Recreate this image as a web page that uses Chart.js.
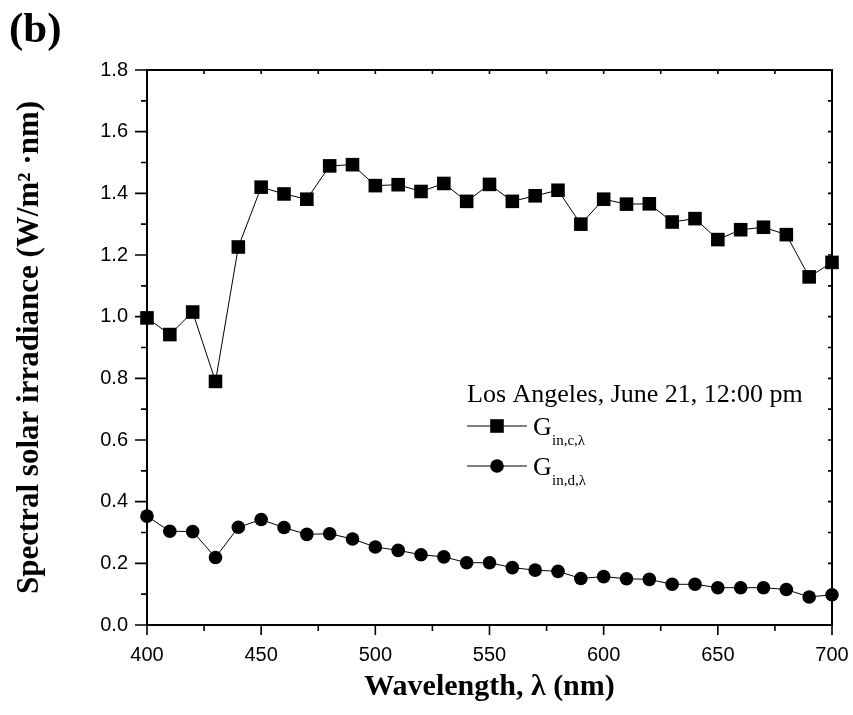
<!DOCTYPE html>
<html>
<head>
<meta charset="utf-8">
<script src="https://cdn.jsdelivr.net/npm/chart.js@4/dist/chart.umd.min.js"></script>
<style>
  html, body { margin: 0; padding: 0; background: #fff; }
  #wrap { width: 853px; height: 715px; }
</style>
</head>
<body>
<div id="wrap"><canvas id="c" width="853" height="715"></canvas></div>
<script>
// ---- data ----
const wavelengths = [400, 410, 420, 430, 440, 450, 460, 470, 480, 490,
                     500, 510, 520, 530, 540, 550, 560, 570, 580, 590,
                     600, 610, 620, 630, 640, 650, 660, 670, 680, 690, 700];
const directIrr  = [0.996, 0.942, 1.015, 0.790, 1.226, 1.420, 1.398, 1.381, 1.489, 1.493,
                    1.425, 1.428, 1.406, 1.432, 1.374, 1.429, 1.374, 1.392, 1.410, 1.300,
                    1.381, 1.365, 1.366, 1.307, 1.318, 1.250, 1.282, 1.290, 1.266, 1.129, 1.176];
const diffuseIrr = [0.353, 0.304, 0.303, 0.219, 0.317, 0.342, 0.316, 0.294, 0.296, 0.279,
                    0.253, 0.242, 0.228, 0.221, 0.202, 0.202, 0.186, 0.178, 0.174, 0.151,
                    0.157, 0.150, 0.148, 0.132, 0.132, 0.121, 0.121, 0.121, 0.115, 0.091, 0.098];
const xMajorTicks = [400, 450, 500, 550, 600, 650, 700];
const xMinorTicks = [425, 475, 525, 575, 625, 675];
const yMajorTicks = [0.0, 0.2, 0.4, 0.6, 0.8, 1.0, 1.2, 1.4, 1.6, 1.8];
const yMinorTicks = [0.1, 0.3, 0.5, 0.7, 0.9, 1.1, 1.3, 1.5, 1.7];
const panelLabel = '(b)';
const legendTitle = 'Los Angeles, June 21, 12:00 pm';
const seriesNames = [{main: 'G', sub: 'in,c,λ'}, {main: 'G', sub: 'in,d,λ'}];
const xTitle = 'Wavelength, λ (nm)';
const yTitle = 'Spectral solar irradiance (W/m² ·nm)';

const toXY = (vals) => wavelengths.map((w, i) => ({x: w, y: vals[i]}));

const SERIF = '"Liberation Serif", "Times New Roman", serif';
const SANS = '"Liberation Sans", Arial, sans-serif';

function drawMarker(ctx, style, x, y) {
  ctx.save();
  ctx.fillStyle = '#000';
  ctx.beginPath();
  if (style === 'rect') {
    const s = 6.8;
    ctx.rect(x - s, y - s, 2 * s, 2 * s);
  } else {
    ctx.arc(x, y, 6.8, 0, Math.PI * 2);
  }
  ctx.fill();
  ctx.restore();
}

const framePlugin = {
  id: 'frame',
  afterDraw(chart) {
    const {ctx, chartArea: a, scales} = chart;
    const xs = scales.x, ys = scales.y;
    ctx.save();
    ctx.strokeStyle = '#000';
    ctx.lineWidth = 2;
    ctx.strokeRect(a.left, a.top, a.right - a.left, a.bottom - a.top);
    ctx.lineWidth = 1.6;
    ctx.beginPath();
    // bottom ticks (outward)
    xMajorTicks.forEach(v => { const p = xs.getPixelForValue(v); ctx.moveTo(p, a.bottom); ctx.lineTo(p, a.bottom + 10); });
    xMinorTicks.forEach(v => { const p = xs.getPixelForValue(v); ctx.moveTo(p, a.bottom); ctx.lineTo(p, a.bottom + 6); });
    // top ticks (inward)
    xMajorTicks.concat(xMinorTicks).forEach(v => { const p = xs.getPixelForValue(v); ctx.moveTo(p, a.top); ctx.lineTo(p, a.top + 4); });
    // left ticks (outward)
    yMajorTicks.forEach(v => { const p = ys.getPixelForValue(v); ctx.moveTo(a.left, p); ctx.lineTo(a.left - 12, p); });
    yMinorTicks.forEach(v => { const p = ys.getPixelForValue(v); ctx.moveTo(a.left, p); ctx.lineTo(a.left - 6, p); });
    // right ticks (inward)
    yMajorTicks.concat(yMinorTicks).forEach(v => { const p = ys.getPixelForValue(v); ctx.moveTo(a.right, p); ctx.lineTo(a.right - 4, p); });
    ctx.stroke();

    // panel label
    ctx.fillStyle = '#000';
    ctx.font = 'bold 43px ' + SERIF;
    ctx.textAlign = 'left';
    ctx.textBaseline = 'alphabetic';
    ctx.fillText(panelLabel, 9, 42);

    // legend
    const lx = 467;
    ctx.font = '26px ' + SERIF;
    ctx.fillText(legendTitle, lx, 402);
    const rows = [{y: 426, style: 'rect'}, {y: 466, style: 'circle'}];
    rows.forEach((r, i) => {
      ctx.lineWidth = 1;
      ctx.beginPath();
      ctx.moveTo(lx, r.y); ctx.lineTo(lx + 60, r.y);
      ctx.stroke();
      drawMarker(ctx, r.style, lx + 30, r.y);
      ctx.font = '26px ' + SERIF;
      ctx.fillText(seriesNames[i].main, lx + 66, r.y + 9);
      ctx.font = '15px ' + SERIF;
      ctx.fillText(seriesNames[i].sub, lx + 85, r.y + 19);
    });
    ctx.restore();
  }
};

new Chart(document.getElementById('c'), {
  type: 'line',
  data: {
    datasets: [
      {
        label: 'G in,c,λ',
        data: toXY(directIrr),
        borderColor: '#000', backgroundColor: '#000', borderWidth: 1,
        pointStyle: 'rect', pointRadius: 9.6, pointHoverRadius: 9.6,
        pointBorderWidth: 0, tension: 0, clip: false
      },
      {
        label: 'G in,d,λ',
        data: toXY(diffuseIrr),
        borderColor: '#000', backgroundColor: '#000', borderWidth: 1,
        pointStyle: 'circle', pointRadius: 6.8, pointHoverRadius: 6.8,
        pointBorderWidth: 0, tension: 0, clip: false
      }
    ]
  },
  options: {
    responsive: false,
    animation: false,
    events: [],
    layout: { padding: { top: 70, right: 21, left: 0, bottom: 0 } },
    plugins: { legend: { display: false }, tooltip: { enabled: false }, title: { display: false } },
    scales: {
      x: {
        type: 'linear', min: 400, max: 700,
        afterFit(s) { s.height = 90; s.paddingLeft = 0; s.paddingRight = 0; },
        grid: { display: false, drawTicks: false },
        border: { display: false },
        ticks: {
          stepSize: 50, padding: 18, color: '#000',
          font: { family: SANS, size: 20 },
          maxRotation: 0, autoSkip: false
        },
        title: {
          display: true, text: xTitle, color: '#000',
          font: { family: SERIF, size: 30, weight: 'bold' },
          padding: { top: 0, bottom: 10 }
        }
      },
      y: {
        type: 'linear', min: 0, max: 1.8,
        afterFit(s) { s.width = 147; s.paddingTop = 0; s.paddingBottom = 0; },
        grid: { display: false, drawTicks: false },
        border: { display: false },
        ticks: {
          stepSize: 0.2, padding: 19, color: '#000',
          font: { family: SANS, size: 20 },
          callback: (v) => Number(v).toFixed(1)
        },
        title: {
          display: true, text: yTitle, color: '#000',
          font: { family: SERIF, size: 31, weight: 'bold' },
          padding: { top: 11, bottom: 0 }
        }
      }
    }
  },
  plugins: [framePlugin]
});
</script>
</body>
</html>
